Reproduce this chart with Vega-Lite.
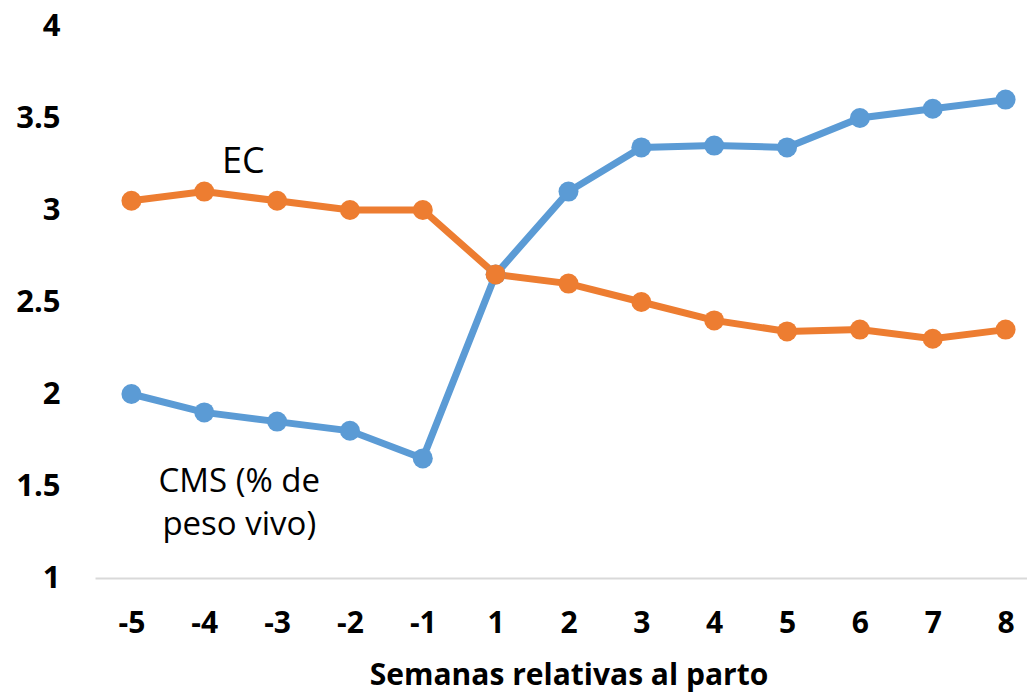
{
  "$schema": "https://vega.github.io/schema/vega-lite/v6.json",
  "autosize": {"type": "none"},
  "width": 932,
  "height": 552,
  "padding": {"left": 95, "top": 26, "right": 0, "bottom": 115},
  "background": "white",
  "config": {
    "view": {"stroke": null},
    "font": "Open Sans"
  },
  "datasets": {
    "series": [
      {"semana": "-5", "serie": "CMS", "valor": 2.0},
      {"semana": "-4", "serie": "CMS", "valor": 1.9},
      {"semana": "-3", "serie": "CMS", "valor": 1.85},
      {"semana": "-2", "serie": "CMS", "valor": 1.8},
      {"semana": "-1", "serie": "CMS", "valor": 1.65},
      {"semana": "1", "serie": "CMS", "valor": 2.65},
      {"semana": "2", "serie": "CMS", "valor": 3.1},
      {"semana": "3", "serie": "CMS", "valor": 3.34},
      {"semana": "4", "serie": "CMS", "valor": 3.35},
      {"semana": "5", "serie": "CMS", "valor": 3.34},
      {"semana": "6", "serie": "CMS", "valor": 3.5},
      {"semana": "7", "serie": "CMS", "valor": 3.55},
      {"semana": "8", "serie": "CMS", "valor": 3.6},
      {"semana": "-5", "serie": "EC", "valor": 3.05},
      {"semana": "-4", "serie": "EC", "valor": 3.1},
      {"semana": "-3", "serie": "EC", "valor": 3.05},
      {"semana": "-2", "serie": "EC", "valor": 3.0},
      {"semana": "-1", "serie": "EC", "valor": 3.0},
      {"semana": "1", "serie": "EC", "valor": 2.65},
      {"semana": "2", "serie": "EC", "valor": 2.6},
      {"semana": "3", "serie": "EC", "valor": 2.5},
      {"semana": "4", "serie": "EC", "valor": 2.4},
      {"semana": "5", "serie": "EC", "valor": 2.34},
      {"semana": "6", "serie": "EC", "valor": 2.35},
      {"semana": "7", "serie": "EC", "valor": 2.3},
      {"semana": "8", "serie": "EC", "valor": 2.35}
    ],
    "etiquetas": [
      {"semana": "-4", "valor": 3.26, "texto": ["EC"], "tam": 36, "desp": 39},
      {"semana": "-4", "valor": 1.52, "texto": ["CMS (% de", "peso vivo)"], "tam": 33, "desp": 35}
    ]
  },
  "encoding": {
    "x": {
      "field": "semana",
      "type": "ordinal",
      "sort": ["-5", "-4", "-3", "-2", "-1", "1", "2", "3", "4", "5", "6", "7", "8"],
      "scale": {"type": "point", "range": [0, 947], "padding": 0.5},
      "axis": {
        "title": "Semanas relativas al parto",
        "titleFont": "Open Sans",
        "titleFontSize": 30,
        "titleFontWeight": "bold",
        "titleColor": "black",
        "titlePadding": 22,
        "labelAngle": 0,
        "labelFont": "Open Sans",
        "labelFontSize": 30,
        "labelFontWeight": "bold",
        "labelColor": "black",
        "labelPadding": 30,
        "ticks": false,
        "domainColor": "#d9d9d9",
        "domainWidth": 2
      }
    },
    "y": {
      "field": "valor",
      "type": "quantitative",
      "scale": {"domain": [1, 4], "nice": false, "zero": false},
      "axis": {
        "title": null,
        "values": [1, 1.5, 2, 2.5, 3, 3.5, 4],
        "format": "~g",
        "labelFont": "Open Sans",
        "labelFontSize": 31,
        "labelFontWeight": "bold",
        "labelColor": "black",
        "labelPadding": 35,
        "ticks": false,
        "domain": false,
        "grid": false
      }
    }
  },
  "layer": [
    {
      "data": {"name": "series"},
      "mark": {"type": "line", "strokeWidth": 7, "point": {"filled": true, "size": 400, "opacity": 1}},
      "encoding": {
        "color": {
          "field": "serie",
          "type": "nominal",
          "scale": {"domain": ["CMS", "EC"], "range": ["#5B9BD5", "#ED7D31"]},
          "legend": null
        }
      }
    },
    {
      "data": {"name": "etiquetas"},
      "mark": {"type": "text", "align": "center", "baseline": "middle", "font": "Open Sans", "color": "black", "lineHeight": 43},
      "encoding": {
        "text": {"field": "texto"},
        "size": {"field": "tam", "type": "quantitative", "scale": null},
        "xOffset": {"field": "desp", "type": "quantitative", "scale": null}
      }
    }
  ]
}
